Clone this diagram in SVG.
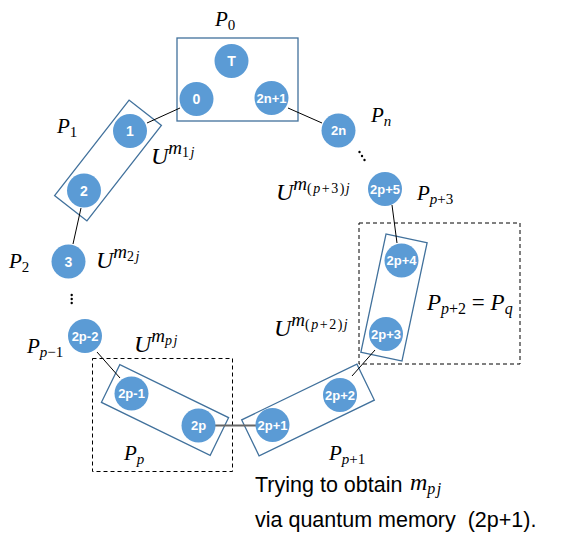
<svg xmlns="http://www.w3.org/2000/svg" width="561" height="553" viewBox="0 0 561 553">
<style>
.nd{fill:#5B9BD5}
.nl{fill:#fff;font-family:"Liberation Sans",Arial,sans-serif;font-weight:bold;font-size:13px;text-anchor:middle}
.nl1{font-size:14px}
.box{fill:none;stroke:#41719C;stroke-width:1.3}
.dash{fill:none;stroke:#000;stroke-width:1;stroke-dasharray:4,3}
.ln{stroke:#000;stroke-width:1;fill:none}
.m{font-family:"Liberation Serif","Times New Roman",serif;font-style:italic;fill:#000}
.r{font-style:normal}
.s{letter-spacing:1.5px}
.t{font-family:"Liberation Sans",Arial,sans-serif;font-size:21.5px;fill:#000}
</style>
<rect width="561" height="553" fill="#fff"/>
<g id="groups">
<rect id="box-P0" class="box" x="177" y="38" width="121" height="83"/>
<rect id="box-P1" class="box" x="87.5" y="100" width="41" height="121" transform="rotate(38 108 160.5)"/>
<rect id="box-Pp2" class="box" x="373" y="237" width="42" height="121" transform="rotate(12 394 297.5)"/>
<rect id="box-Pp" class="box" x="104.5" y="389" width="121" height="42" transform="rotate(26 165 410)"/>
<rect id="box-Pp1" class="box" x="244" y="390" width="128" height="40" transform="rotate(-25.8 308 410)"/>
<rect id="dash-Pq" class="dash" x="359" y="223" width="161" height="141"/>
<rect id="dash-Pp" class="dash" x="92.5" y="358.5" width="140" height="113"/>
</g>
<g id="connectors">
<line class="ln" x1="180" y1="108" x2="147" y2="123"/>
<line class="ln" x1="288" y1="108" x2="322" y2="123"/>
<line class="ln" x1="81" y1="208" x2="73" y2="244"/>
<line class="ln" x1="392" y1="205" x2="397" y2="243"/>
<line class="ln" x1="97" y1="352" x2="120" y2="378"/>
<line x1="215" y1="425.5" x2="256" y2="425.5" stroke="#666" stroke-width="2"/>
<line class="ln" x1="375" y1="350" x2="352" y2="376"/>
</g>
<g id="ellipses" fill="#000">
<circle cx="71.7" cy="295" r="1.2"/><circle cx="71.7" cy="299" r="1.2"/><circle cx="71.7" cy="303" r="1.2"/>
<circle cx="359.5" cy="152" r="1.2"/><circle cx="362" cy="156" r="1.2"/><circle cx="364.5" cy="160" r="1.2"/>
</g>
<g id="n-T"><circle class="nd" cx="231.5" cy="61" r="17"/><text class="nl nl1" x="231.5" y="66">T</text></g>
<g id="n-0"><circle class="nd" cx="196.5" cy="99" r="17"/><text class="nl nl1" x="196.5" y="104">0</text></g>
<g id="n-2n1"><circle class="nd" cx="271.5" cy="98" r="17"/><text class="nl" x="271.5" y="102.5">2n+1</text></g>
<g id="n-1"><circle class="nd" cx="130" cy="131" r="17"/><text class="nl nl1" x="130" y="136">1</text></g>
<g id="n-2"><circle class="nd" cx="84" cy="190.5" r="17"/><text class="nl nl1" x="84" y="195.5">2</text></g>
<g id="n-3"><circle class="nd" cx="68.5" cy="261.5" r="17"/><text class="nl nl1" x="68.5" y="266.5">3</text></g>
<g id="n-2n"><circle class="nd" cx="338.5" cy="130.5" r="17"/><text class="nl" x="338.5" y="135">2n</text></g>
<g id="n-2p5"><circle class="nd" cx="385" cy="189" r="17"/><text class="nl" x="385" y="193.5">2p+5</text></g>
<g id="n-2p4"><circle class="nd" cx="401.5" cy="260.5" r="17"/><text class="nl" x="401.5" y="265">2p+4</text></g>
<g id="n-2p3"><circle class="nd" cx="386" cy="334" r="17"/><text class="nl" x="386" y="338.5">2p+3</text></g>
<g id="n-2pm2"><circle class="nd" cx="85" cy="336" r="17"/><text class="nl" x="85" y="340.5">2p-2</text></g>
<g id="n-2pm1"><circle class="nd" cx="131.5" cy="393.5" r="17"/><text class="nl" x="131.5" y="398">2p-1</text></g>
<g id="n-2p"><circle class="nd" cx="198.5" cy="425.5" r="17"/><text class="nl" x="198.5" y="430">2p</text></g>
<g id="n-2p1"><circle class="nd" cx="272.5" cy="425" r="17"/><text class="nl" x="272.5" y="429.5">2p+1</text></g>
<g id="n-2p2"><circle class="nd" cx="340" cy="395" r="17"/><text class="nl" x="340" y="399.5">2p+2</text></g>
<g id="labels">
<text class="m" x="215" y="26" font-size="21">P<tspan class="r" font-size="15" dy="4">0</tspan></text>
<text class="m" x="57" y="133" font-size="21">P<tspan class="r" font-size="15" dy="4">1</tspan></text>
<text class="m" x="9" y="268" font-size="21">P<tspan class="r" font-size="15" dy="4">2</tspan></text>
<text class="m" x="371" y="122" font-size="21">P<tspan font-size="15" dy="4">n</tspan></text>
<text class="m" x="27" y="353" font-size="21">P<tspan font-size="15" dy="4">p</tspan><tspan class="r" font-size="15">−1</tspan></text>
<text class="m" x="124" y="460" font-size="21">P<tspan font-size="15" dy="4">p</tspan></text>
<text class="m" x="329" y="460" font-size="21">P<tspan font-size="15" dy="4">p</tspan><tspan class="r" font-size="15">+1</tspan></text>
<text class="m" x="417" y="200" font-size="21">P<tspan font-size="15" dy="4">p</tspan><tspan class="r" font-size="15">+3</tspan></text>
<text class="m" x="427" y="310" font-size="23">P<tspan font-size="16" dy="4">p</tspan><tspan class="r" font-size="16">+2</tspan><tspan class="r" dy="-4"> = </tspan>P<tspan font-size="16" dy="4">q</tspan></text>
<text class="m" x="151" y="164" font-size="24">U<tspan font-size="19" dy="-10">m</tspan><tspan class="r s" font-size="14" dy="3">1</tspan><tspan font-size="14">j</tspan></text>
<text class="m" x="96" y="268" font-size="24">U<tspan font-size="19" dy="-10">m</tspan><tspan class="r s" font-size="14" dy="3">2</tspan><tspan font-size="14">j</tspan></text>
<text class="m" x="134" y="352" font-size="24">U<tspan font-size="19" dy="-10">m</tspan><tspan class="s" font-size="14" dy="3">pj</tspan></text>
<text class="m" x="276" y="200" font-size="24">U<tspan font-size="19" dy="-10">m</tspan><tspan class="r s" font-size="14" dy="3">(</tspan><tspan class="s" font-size="14">p</tspan><tspan class="r s" font-size="14">+3)</tspan><tspan font-size="14">j</tspan></text>
<text class="m" x="274" y="336" font-size="24">U<tspan font-size="19" dy="-10">m</tspan><tspan class="r s" font-size="14" dy="3">(</tspan><tspan class="s" font-size="14">p</tspan><tspan class="r s" font-size="14">+2)</tspan><tspan font-size="14">j</tspan></text>
<text class="t" x="255" y="492">Trying to obtain</text>
<text class="m" x="410" y="490" font-size="24">m<tspan class="s" font-size="16" dy="4">pj</tspan></text>
<text class="t" x="255" y="527" xml:space="preserve">via quantum memory  (2p+1).</text>
</g>
</svg>
